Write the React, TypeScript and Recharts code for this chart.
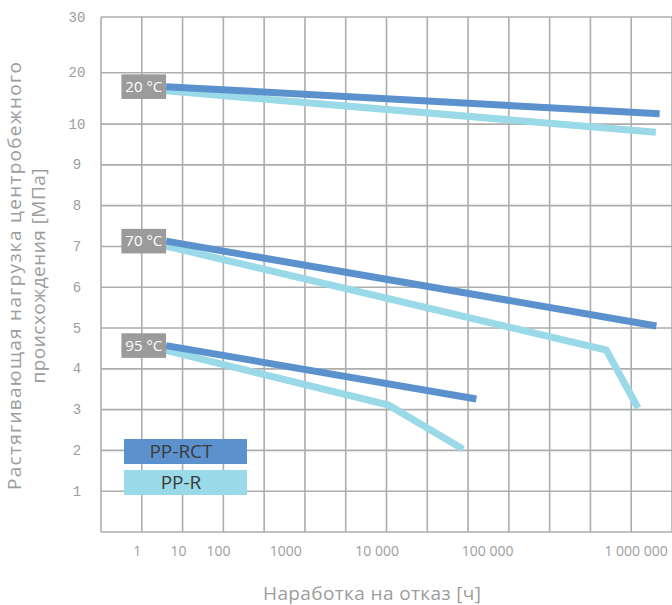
import React from "react";
import { LineChart, Line, XAxis, YAxis, CartesianGrid, Legend } from "recharts";

// ---- data (hours to failure, hoop stress in MPa) ----
const xTickHours = [1, 10, 100, 1000, 10000, 100000, 1000000];
const xTickLabels = ["1", "10", "100", "1000", "10 000", "100 000", "1 000 000"];
const yTickValues = [0, 1, 2, 3, 4, 5, 6, 7, 8, 9, 10, 20, 30];
const yTickLabels = ["", "1", "2", "3", "4", "5", "6", "7", "8", "9", "10", "20", "30"];

const rct20 = [{ h: 5, p: 17.3 }, { h: 1440000, p: 12.0 }];
const r20 = [{ h: 5, p: 16.5 }, { h: 1360000, p: 9.8 }];
const rct70 = [{ h: 5, p: 7.13 }, { h: 1370000, p: 5.05 }];
const r70 = [{ h: 5, p: 7.01 }, { h: 630000, p: 4.46 }, { h: 1030000, p: 3.04 }];
const rct95 = [{ h: 5, p: 4.57 }, { h: 79000, p: 3.26 }];
const r95 = [{ h: 5, p: 4.45 }, { h: 12700, p: 3.11 }, { h: 60000, p: 2.03 }];

const temperatures = ["20 °C", "70 °C", "95 °C"];
const materials = ["PP-RCT", "PP-R"];

// ---- axis layout (positions of the ticks along the axes, in grid units) ----
const X_TICK_POS = [0.89, 1.9, 2.88, 4.53, 6.77, 9.48, 13.12];
const Y_TICK_POS = [0, 1, 2, 3, 4, 5, 6, 7, 8, 9, 10, 11.257, 12.625];
const X_DOMAIN: [number, number] = [0, 14];
const GRID_X = [0, 1, 2, 3, 4, 5, 6, 7, 8, 9, 10, 11, 12, 13, 14];

const DARK = "#5b92cd";
const LIGHT = "#99d9e8";
const GRID = "#adadad";
const TEXT = "#9d9d9d";
const FONT = "'Open Sans', 'Noto Sans', sans-serif";

const hoursToX = (h: number) => {
  const lg = Math.log10(h);
  const i = Math.max(0, Math.min(Math.floor(lg), xTickHours.length - 2));
  return X_TICK_POS[i] + (lg - i) * (X_TICK_POS[i + 1] - X_TICK_POS[i]);
};
const mpaToY = (p: number) => {
  let i = 0;
  while (i < yTickValues.length - 2 && p > yTickValues[i + 1]) i++;
  const v0 = yTickValues[i], v1 = yTickValues[i + 1];
  return Y_TICK_POS[i] + ((p - v0) / (v1 - v0)) * (Y_TICK_POS[i + 1] - Y_TICK_POS[i]);
};
const xKey = (d: any) => hoursToX(d.h);
const yKey = (d: any) => mpaToY(d.p);

const verticalGrid = ({ offset }: any) =>
  GRID_X.map((u) => offset.left + ((u - X_DOMAIN[0]) / (X_DOMAIN[1] - X_DOMAIN[0])) * offset.width);

const tempLabel = (text: string) => (props: any) => {
  if (props.index !== 0) return <g />;
  const { x, y } = props;
  return (
    <g>
      <rect x={x - 44.7} y={y - 12.3} width={44.7} height={24.6} fill="#9b9b9c" />
      <text x={x - 22.3} y={y + 5.2} textAnchor="middle" fill="#ffffff" fontSize={15} fontFamily={FONT}>
        {text}
      </text>
    </g>
  );
};

const XTick = (props: any) => {
  const { x, y, payload } = props;
  const idx = X_TICK_POS.indexOf(payload.value);
  return (
    <text x={x} y={y + 24} textAnchor="middle" fill={TEXT} fontSize={14} fontFamily={FONT}>
      {xTickLabels[idx]}
    </text>
  );
};

const YTick = (props: any) => {
  const { x, y, payload } = props;
  const idx = Y_TICK_POS.indexOf(payload.value);
  return (
    <text x={x - 24} y={y + 4.5} textAnchor="middle" fill={TEXT} fontSize={14} fontFamily="'Liberation Mono', monospace">
      {yTickLabels[idx]}
    </text>
  );
};

const LegendBoxes = (props: any) => {
  const payload = props.payload || [];
  const items = materials
    .map((m) => payload.find((p: any) => p.value === m))
    .filter(Boolean);
  return (
    <div>
      {items.map((it: any) => (
        <div
          key={it.value}
          style={{
            width: 123,
            height: 24.5,
            background: it.color,
            marginBottom: 6.5,
            color: "#3b3b3b",
            fontFamily: FONT,
            fontSize: 19,
            lineHeight: "24.5px",
            textAlign: "center",
            paddingRight: 9,
            boxSizing: "border-box",
          }}
        >
          {it.value}
        </div>
      ))}
    </div>
  );
};

const YTitle = () => (
  <text transform="translate(0,276) rotate(-90)" textAnchor="middle" fill={TEXT} fontSize={19} fontFamily={FONT}>
    <tspan x={0} y={21} textLength={428} lengthAdjust="spacing">Растягивающая нагрузка центробежного</tspan>
    <tspan x={0} y={45} textLength={215} lengthAdjust="spacing">происхождения [МПа]</tspan>
  </text>
);

const XTitle = () => (
  <text x={372} y={600} textAnchor="middle" fill={TEXT} fontSize={19} fontFamily={FONT} textLength={218} lengthAdjust="spacing">
    Наработка на отказ [ч]
  </text>
);

export default function App() {
  return (
    <div style={{ position: "absolute", left: 0, top: 0, width: 672, height: 605, background: "#fff" }}>
      <LineChart width={672} height={605} margin={{ top: 17, right: 0, bottom: 43, left: 0 }}>
        <CartesianGrid stroke={GRID} strokeWidth={1.6} verticalCoordinatesGenerator={verticalGrid} />
        <XAxis
          type="number"
          dataKey={xKey}
          domain={X_DOMAIN}
          ticks={X_TICK_POS}
          interval={0}
          height={30}
          tick={<XTick />}
          tickSize={0}
          tickMargin={0}
          axisLine={false}
          tickLine={false}
          allowDataOverflow
          label={<XTitle />}
        />
        <YAxis
          type="number"
          dataKey={yKey}
          domain={[0, 12.625]}
          ticks={Y_TICK_POS}
          interval={0}
          width={101}
          tick={<YTick />}
          tickSize={0}
          tickMargin={0}
          axisLine={false}
          tickLine={false}
          allowDataOverflow
          label={<YTitle />}
        />
        <Legend
          layout="vertical"
          align="center"
          verticalAlign="middle"
          wrapperStyle={{ left: 124, top: 439, width: 123 }}
          content={<LegendBoxes />}
        />
        <Line data={r20} dataKey={yKey} name="PP-R" stroke={LIGHT} strokeWidth={7} dot={false} activeDot={false} isAnimationActive={false} />
        <Line data={r70} dataKey={yKey} name="PP-R 70" legendType="none" stroke={LIGHT} strokeWidth={7} dot={false} activeDot={false} isAnimationActive={false} />
        <Line data={r95} dataKey={yKey} name="PP-R 95" legendType="none" stroke={LIGHT} strokeWidth={7} dot={false} activeDot={false} isAnimationActive={false} />
        <Line data={rct20} dataKey={yKey} name="PP-RCT" stroke={DARK} strokeWidth={7} dot={false} activeDot={false} isAnimationActive={false} label={tempLabel(temperatures[0])} />
        <Line data={rct70} dataKey={yKey} name="PP-RCT 70" legendType="none" stroke={DARK} strokeWidth={7} dot={false} activeDot={false} isAnimationActive={false} label={tempLabel(temperatures[1])} />
        <Line data={rct95} dataKey={yKey} name="PP-RCT 95" legendType="none" stroke={DARK} strokeWidth={7} dot={false} activeDot={false} isAnimationActive={false} label={tempLabel(temperatures[2])} />
      </LineChart>
    </div>
  );
}
